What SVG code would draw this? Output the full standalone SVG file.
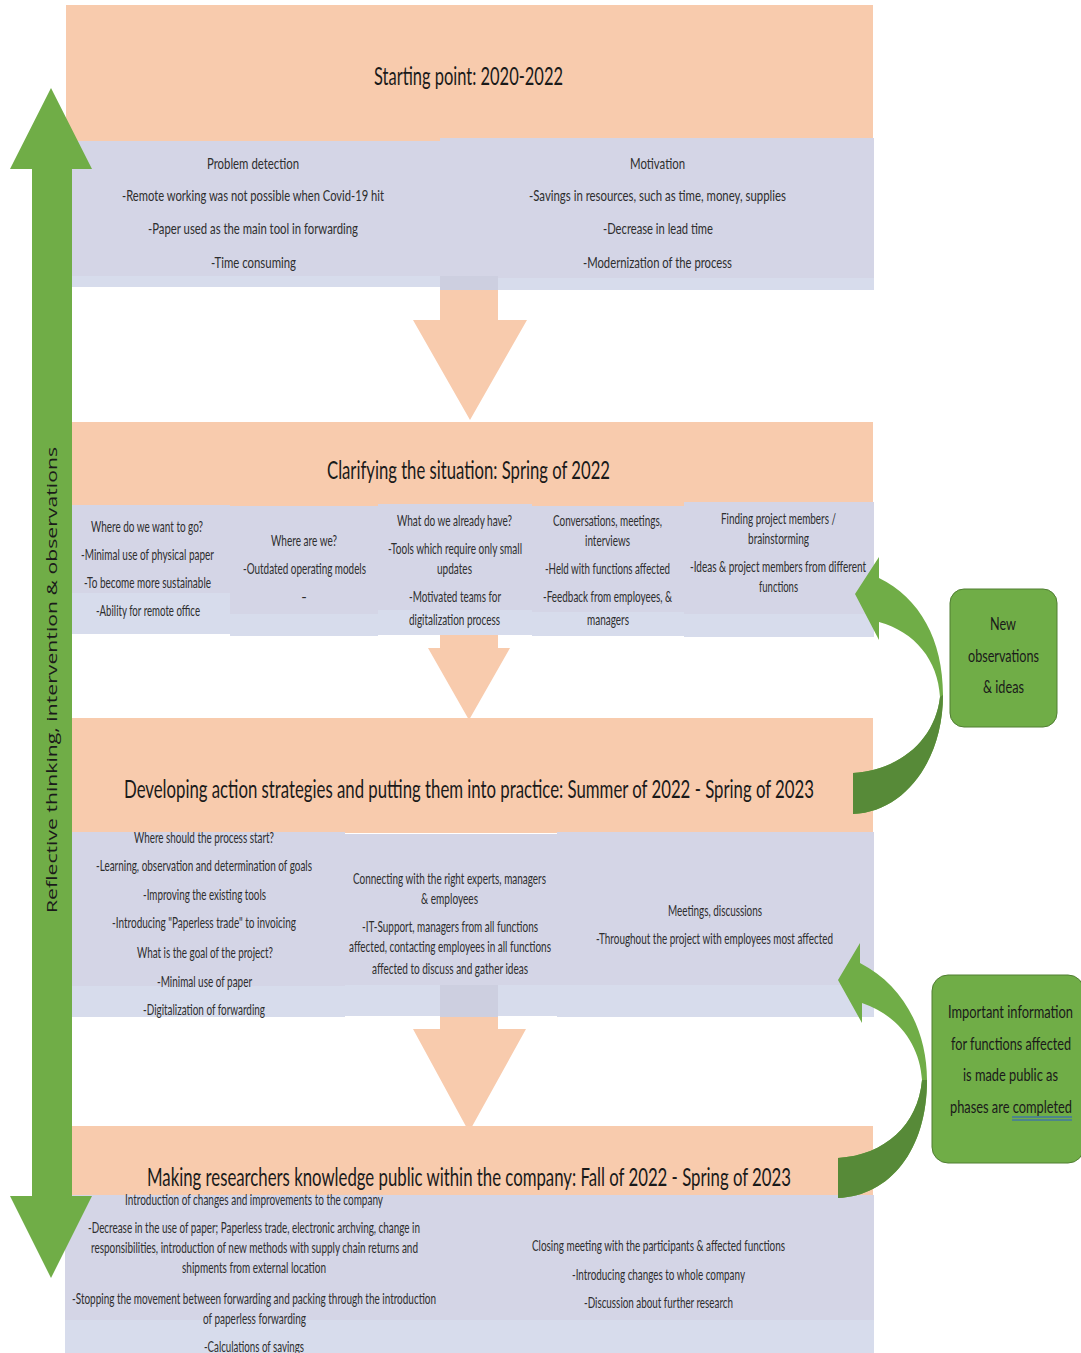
<svg xmlns="http://www.w3.org/2000/svg" width="1081" height="1353" viewBox="0 0 1081 1353">
<style>
.pe{fill:#F8CBAD}
.bl{fill:#D4D5E6}
.bs{fill:#D7DCEC}
.bd{fill:#CDCFE0}
.gr{fill:#70AD47}
.dg{fill:#578A38}
.t{font-family:Lato,"Liberation Sans",Arial,sans-serif;font-size:15px;fill:#2E2E2E;text-anchor:middle}
.h{font-family:Lato,"Liberation Sans",Arial,sans-serif;font-size:25px;fill:#1A1A1A;text-anchor:middle}
.g{font-family:Lato,"Liberation Sans",Arial,sans-serif;font-size:18px;fill:#1A1A1A;text-anchor:middle}
.v{font-family:"Open Sans","DejaVu Sans",sans-serif;font-size:15px;fill:#1A1A1A;text-anchor:middle}
</style>
<rect width="1081" height="1353" fill="#FFFFFF"/>

<g id="connectors">
  <polygon class="pe" points="440,280 498,280 498,320 527,320 470,420 413,320 440,320"/>
  <polygon class="pe" points="440,630 498,630 498,648 510,648 469,720 428,648 440,648"/>
  <polygon class="pe" points="440,1010 498,1010 498,1029 526,1029 469,1132 413,1029 440,1029"/>
</g>

<g id="stage1">
  <rect class="pe" x="66" y="5" width="807" height="136"/>
  <rect class="bl" x="70" y="141" width="370" height="146"/>
  <rect class="bs" x="70" y="276" width="370" height="11"/>
  <rect class="bl" x="440" y="138" width="434" height="152"/>
  <rect class="bs" x="498" y="278" width="376" height="12"/>
  <rect class="bd" x="440" y="276" width="58" height="14"/>
  <text class="h" x="468.5" y="85" textLength="189" lengthAdjust="spacingAndGlyphs">Starting point: 2020-2022</text>
  <text class="t" x="253" y="169" textLength="92" lengthAdjust="spacingAndGlyphs">Problem detection</text>
  <text class="t" x="253" y="201" textLength="262" lengthAdjust="spacingAndGlyphs">-Remote working was not possible when Covid-19 hit</text>
  <text class="t" x="253" y="234" textLength="210" lengthAdjust="spacingAndGlyphs">-Paper used as the main tool in forwarding</text>
  <text class="t" x="253.5" y="268" textLength="85" lengthAdjust="spacingAndGlyphs">-Time consuming</text>
  <text class="t" x="657.5" y="169" textLength="55" lengthAdjust="spacingAndGlyphs">Motivation</text>
  <text class="t" x="657.5" y="201" textLength="257" lengthAdjust="spacingAndGlyphs">-Savings in resources, such as time, money, supplies</text>
  <text class="t" x="658" y="234" textLength="110" lengthAdjust="spacingAndGlyphs">-Decrease in lead time</text>
  <text class="t" x="657.5" y="268" textLength="149" lengthAdjust="spacingAndGlyphs">-Modernization of the process</text>
</g>

<g id="stage2">
  <rect class="pe" x="70" y="422" width="803" height="84"/>
  <rect class="bl" x="70" y="505" width="160" height="129"/>
  <rect class="bs" x="70" y="593" width="160" height="41"/>
  <rect class="bl" x="230" y="506" width="148" height="130"/>
  <rect class="bs" x="230" y="614" width="148" height="22"/>
  <rect class="bl" x="378" y="504" width="154" height="131"/>
  <rect class="bs" x="378" y="610" width="154" height="25"/>
  <rect class="bl" x="532" y="506" width="152" height="130"/>
  <rect class="bs" x="532" y="612" width="152" height="24"/>
  <rect class="bl" x="684" y="502" width="190" height="135"/>
  <rect class="bs" x="684" y="614" width="190" height="23"/>
  <text class="h" x="468.5" y="479" textLength="283" lengthAdjust="spacingAndGlyphs">Clarifying the situation: Spring of 2022</text>
  <text class="t" x="147" y="532" textLength="112" lengthAdjust="spacingAndGlyphs">Where do we want to go?</text>
  <text class="t" x="147.5" y="560" textLength="133" lengthAdjust="spacingAndGlyphs">-Minimal use of physical paper</text>
  <text class="t" x="147.5" y="588" textLength="127" lengthAdjust="spacingAndGlyphs">-To become more sustainable</text>
  <text class="t" x="148" y="616" textLength="104" lengthAdjust="spacingAndGlyphs">-Ability for remote office</text>
  <text class="t" x="304" y="546" textLength="66" lengthAdjust="spacingAndGlyphs">Where are we?</text>
  <text class="t" x="304.5" y="574" textLength="123" lengthAdjust="spacingAndGlyphs">-Outdated operating models</text>
  <text class="t" x="304" y="602">-</text>
  <text class="t" x="454.5" y="526" textLength="115" lengthAdjust="spacingAndGlyphs">What do we already have?</text>
  <text class="t" x="455" y="554" textLength="134" lengthAdjust="spacingAndGlyphs">-Tools which require only small</text>
  <text class="t" x="454.5" y="574" textLength="35" lengthAdjust="spacingAndGlyphs">updates</text>
  <text class="t" x="455" y="602" textLength="92" lengthAdjust="spacingAndGlyphs">-Motivated teams for</text>
  <text class="t" x="454.5" y="625" textLength="91" lengthAdjust="spacingAndGlyphs">digitalization process</text>
  <text class="t" x="607.5" y="526" textLength="109" lengthAdjust="spacingAndGlyphs">Conversations, meetings,</text>
  <text class="t" x="607.5" y="546" textLength="45" lengthAdjust="spacingAndGlyphs">interviews</text>
  <text class="t" x="607.5" y="574" textLength="125" lengthAdjust="spacingAndGlyphs">-Held with functions affected</text>
  <text class="t" x="607.5" y="602" textLength="129" lengthAdjust="spacingAndGlyphs">-Feedback from employees, &amp;</text>
  <text class="t" x="608" y="625" textLength="42" lengthAdjust="spacingAndGlyphs">managers</text>
  <text class="t" x="778.5" y="524" textLength="115" lengthAdjust="spacingAndGlyphs">Finding project members /</text>
  <text class="t" x="778.5" y="544" textLength="61" lengthAdjust="spacingAndGlyphs">brainstorming</text>
  <text class="t" x="778" y="572" textLength="176" lengthAdjust="spacingAndGlyphs">-Ideas &amp; project members from different</text>
  <text class="t" x="778.5" y="592" textLength="39" lengthAdjust="spacingAndGlyphs">functions</text>
</g>

<g id="stage3">
  <rect class="pe" x="70" y="718" width="803" height="115"/>
  <rect class="bl" x="70" y="832" width="275" height="185"/>
  <rect class="bs" x="70" y="986" width="275" height="31"/>
  <rect class="bl" x="345" y="834" width="212" height="182"/>
  <rect class="bs" x="345" y="985" width="212" height="31"/>
  <rect class="bl" x="557" y="832" width="317" height="185"/>
  <rect class="bs" x="557" y="985" width="317" height="32"/>
  <rect class="bd" x="440" y="985" width="58" height="32"/>
  <text class="h" x="469" y="798" textLength="690" lengthAdjust="spacingAndGlyphs">Developing action strategies and putting them into practice: Summer of 2022 - Spring of 2023</text>
  <text class="t" x="204" y="843" textLength="140" lengthAdjust="spacingAndGlyphs">Where should the process start?</text>
  <text class="t" x="204" y="871" textLength="216" lengthAdjust="spacingAndGlyphs">-Learning, observation and determination of goals</text>
  <text class="t" x="204.5" y="900" textLength="123" lengthAdjust="spacingAndGlyphs">-Improving the existing tools</text>
  <text class="t" x="204" y="928" textLength="184" lengthAdjust="spacingAndGlyphs">-Introducing "Paperless trade" to invoicing</text>
  <text class="t" x="205" y="958" textLength="136" lengthAdjust="spacingAndGlyphs">What is the goal of the project?</text>
  <text class="t" x="204.5" y="987" textLength="95" lengthAdjust="spacingAndGlyphs">-Minimal use of paper</text>
  <text class="t" x="204" y="1015" textLength="122" lengthAdjust="spacingAndGlyphs">-Digitalization of forwarding</text>
  <text class="t" x="449.5" y="884" textLength="193" lengthAdjust="spacingAndGlyphs">Connecting with the right experts, managers</text>
  <text class="t" x="449.5" y="904" textLength="57" lengthAdjust="spacingAndGlyphs">&amp; employees</text>
  <text class="t" x="450" y="932" textLength="176" lengthAdjust="spacingAndGlyphs">-IT-Support, managers from all functions</text>
  <text class="t" x="450" y="952" textLength="202" lengthAdjust="spacingAndGlyphs">affected, contacting employees in all functions</text>
  <text class="t" x="450" y="974" textLength="156" lengthAdjust="spacingAndGlyphs">affected to discuss and gather ideas</text>
  <text class="t" x="715" y="916" textLength="94" lengthAdjust="spacingAndGlyphs">Meetings, discussions</text>
  <text class="t" x="714.5" y="944" textLength="237" lengthAdjust="spacingAndGlyphs">-Throughout the project with employees most affected</text>
</g>

<g id="stage4">
  <rect class="pe" x="72" y="1126" width="801" height="70"/>
  <rect class="bl" x="65" y="1195" width="380" height="158"/>
  <rect class="bs" x="65" y="1320" width="380" height="33"/>
  <rect class="bl" x="445" y="1195" width="429" height="158"/>
  <rect class="bs" x="445" y="1320" width="429" height="33"/>
  <text class="h" x="469" y="1186" textLength="644" lengthAdjust="spacingAndGlyphs">Making researchers knowledge public within the company: Fall of 2022 - Spring of 2023</text>
  <text class="t" x="254" y="1205" textLength="258" lengthAdjust="spacingAndGlyphs">Introduction of changes and improvements to the company</text>
  <text class="t" x="254" y="1233" textLength="332" lengthAdjust="spacingAndGlyphs">-Decrease in the use of paper; Paperless trade, electronic archving, change in</text>
  <text class="t" x="254.5" y="1253" textLength="327" lengthAdjust="spacingAndGlyphs">responsibilities, introduction of new methods with supply chain returns and</text>
  <text class="t" x="254" y="1273" textLength="144" lengthAdjust="spacingAndGlyphs">shipments from external location</text>
  <text class="t" x="254" y="1304" textLength="364" lengthAdjust="spacingAndGlyphs">-Stopping the movement between forwarding and packing through the introduction</text>
  <text class="t" x="254.5" y="1324" textLength="103" lengthAdjust="spacingAndGlyphs">of paperless forwarding</text>
  <text class="t" x="254" y="1352" textLength="100" lengthAdjust="spacingAndGlyphs">-Calculations of savings</text>
  <text class="t" x="658.5" y="1251" textLength="253" lengthAdjust="spacingAndGlyphs">Closing meeting with the participants &amp; affected functions</text>
  <text class="t" x="658.5" y="1280" textLength="173" lengthAdjust="spacingAndGlyphs">-Introducing changes to whole company</text>
  <text class="t" x="658.5" y="1308" textLength="149" lengthAdjust="spacingAndGlyphs">-Discussion about further research</text>
</g>

<g id="reflective-arrow">
  <polygon class="gr" points="51,88 92,169 72,169 72,1196 92,1196 51,1278 10,1196 32,1196 32,169 10,169"/>
  <text class="v" transform="translate(57,680) rotate(-90)" textLength="466" lengthAdjust="spacingAndGlyphs">Reflective thinking, intervention &amp; observations</text>
</g>

<g id="loop-arrow-1">
  <path class="gr" d="M855,594 L879,557 L879,578 C920,598 943,640 943,695 C943,760 905,812 853,814 L853,773 C900,770 935,740 940,697 C938,660 915,632 879,622 L879,640 Z"/>
  <path class="dg" d="M943,695 C943,760 905,812 853,814 L853,773 C900,770 935,740 940,697 Z"/>
</g>

<g id="loop-arrow-2">
  <path class="gr" d="M838,980 L860,943 L860,963 C903,985 927,1030 927,1080 C927,1150 890,1196 838,1198 L838,1158 C885,1155 918,1125 922,1080 C920,1045 898,1015 862,1003 L862,1023 Z"/>
  <path class="dg" d="M927,1080 C927,1150 890,1196 838,1198 L838,1158 C885,1155 918,1125 922,1080 Z"/>
</g>

<g id="note-new-observations">
  <rect x="950" y="589" width="107" height="138" rx="14" fill="#70AD47" stroke="#507E32" stroke-width="1"/>
  <text class="g" x="1003" y="630" textLength="26" lengthAdjust="spacingAndGlyphs">New</text>
  <text class="g" x="1003.5" y="662" textLength="71" lengthAdjust="spacingAndGlyphs">observations</text>
  <text class="g" x="1003.5" y="693" textLength="41" lengthAdjust="spacingAndGlyphs">&amp; ideas</text>
</g>

<g id="note-important-info">
  <rect x="932" y="975" width="152" height="188" rx="16" fill="#70AD47" stroke="#507E32" stroke-width="1"/>
  <text class="g" x="1010.5" y="1018" textLength="125" lengthAdjust="spacingAndGlyphs">Important information</text>
  <text class="g" x="1011" y="1050" textLength="120" lengthAdjust="spacingAndGlyphs">for functions affected</text>
  <text class="g" x="1010.5" y="1081" textLength="95" lengthAdjust="spacingAndGlyphs">is made public as</text>
  <text class="g" x="1011" y="1113" textLength="122" lengthAdjust="spacingAndGlyphs">phases are completed</text>
  <line x1="1012" y1="1117" x2="1072" y2="1117" stroke="#2B5DD1" stroke-width="1"/>
  <line x1="1012" y1="1120" x2="1072" y2="1120" stroke="#2B5DD1" stroke-width="1"/>
</g>
</svg>
